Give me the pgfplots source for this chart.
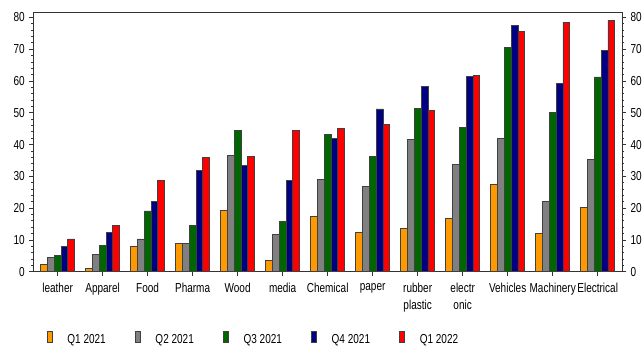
\documentclass[border=0pt]{standalone}
\usepackage{fontspec}
\setmainfont{Liberation Sans}[FakeStretch=0.77]
\usepackage{pgfplots}
\usepackage{pgfplotstable}
\pgfplotsset{compat=1.18}
\definecolor{cOr}{HTML}{FF9900}
\definecolor{cGy}{HTML}{808080}
\definecolor{cGn}{HTML}{006600}
\definecolor{cBl}{HTML}{000080}
\definecolor{cRd}{HTML}{FF0000}
\definecolor{axgray}{HTML}{333333}
\definecolor{edge}{HTML}{404040}
\newcommand\lbl{\fontsize{13}{17}\selectfont}
\pgfplotstableread{
x q1 q2 q3 q4 q5
0 2.3 4.5 5.1 8.0 10.3
1 0.9 5.5 8.4 12.4 14.6
2 8.0 10.3 19.1 22.2 28.8
3 8.8 8.8 14.6 31.9 36.0
4 19.3 36.6 44.5 33.5 36.3
5 3.6 11.8 15.9 28.8 44.5
6 17.4 29.1 43.2 42.0 45.1
7 12.4 26.9 36.4 51.2 46.4
8 13.6 41.7 51.4 58.3 50.8
9 16.8 33.8 45.5 61.5 61.8
10 27.5 42.0 70.6 77.5 75.7
11 12.1 22.1 50.2 59.3 78.5
12 20.3 35.4 61.3 69.7 79.1
}\data
\begin{document}
\lbl
\begin{tikzpicture}
\useasboundingbox (-33.3pt,-75.3pt) rectangle (608.7pt,271.7pt);
\pgfplotsset{common/.style={
  width=588.7pt, height=259pt, scale only axis,
  xmin=-0.54, xmax=12.54, ymin=0, ymax=81.5,
  ytick={0,10,...,80}, minor y tick num=4,
  tick align=outside, major tick length=4pt, minor tick length=2pt,
  axis line style={draw=axgray, line width=0.9pt},
  every tick/.style={draw=axgray, line width=0.8pt},
  every minor tick/.style={draw=axgray, line width=0.8pt},
  /pgf/number format/assume math mode=true,
  tick label style={font=\lbl},
}}
\begin{axis}[common,
  ybar=0pt, bar width=0.151,
  xtick={0,...,12}, xtick pos=left, ytick pos=left,
  xticklabels={leather,Apparel,Food,Pharma,Wood,media,Chemical,paper,{rubber\\plastic},{electr\\onic},Vehicles,Machinery,Electrical},
  xticklabel style={align=center, yshift=-3pt},
  legend cell align=left,
  legend columns=5,
  legend image code/.code={\draw[#1] (0pt,-2.7pt) rectangle (5pt,8.3pt);},
  legend style={at={(0.0224,-0.258)}, anchor=west, draw=none, fill=none,
    inner sep=0pt, font=\lbl, nodes={inner sep=0pt},
    /tikz/every odd column/.append style={column sep=15pt},
    /tikz/every even column/.append style={column sep=29pt}},
]
\addplot[fill=cOr, draw=edge, line width=0.7pt] table[x=x,y=q1]{\data};
\addplot[fill=cGy, draw=edge, line width=0.7pt] table[x=x,y=q2]{\data};
\addplot[fill=cGn, draw=edge, line width=0.7pt] table[x=x,y=q3]{\data};
\addplot[fill=cBl, draw=edge, line width=0.7pt] table[x=x,y=q4]{\data};
\addplot[fill=cRd, draw=edge, line width=0.7pt] table[x=x,y=q5]{\data};
\legend{Q1 2021,Q2 2021,Q3 2021,Q4 2021,Q1 2022}
\end{axis}
\begin{axis}[common, hide x axis, ytick pos=right, yticklabel pos=right]
\addplot[draw=none] coordinates {(0,0)};
\end{axis}
\end{tikzpicture}
\end{document}
